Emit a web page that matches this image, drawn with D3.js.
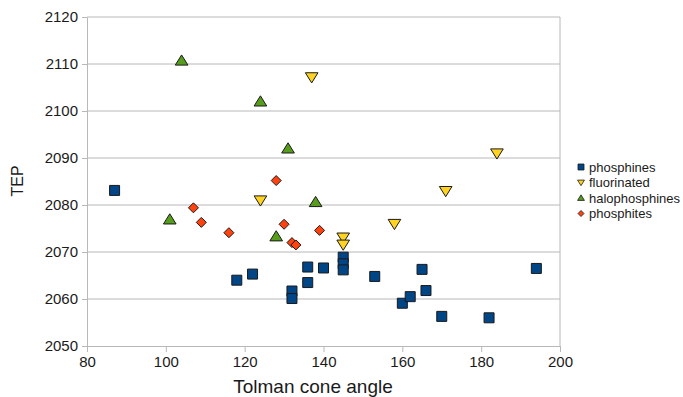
<!DOCTYPE html>
<html>
<head>
<meta charset="utf-8">
<script src="https://cdn.jsdelivr.net/npm/d3@7"></script>
<style>
  body { margin: 0; background: #fff; }
  svg text { font-family: "Liberation Sans", Arial, sans-serif; fill: #1a1a1a; }
</style>
</head>
<body>
<svg id="chart" width="683" height="397"></svg>
<script>
// Data: [Tolman cone angle, TEP]
const phosphines = [
  [87, 2083.1], [118, 2064.0], [122, 2065.3], [132, 2061.7], [132, 2060.1],
  [136, 2066.8], [136, 2063.5], [140, 2066.6], [145, 2068.9], [145, 2067.5],
  [145, 2066.2], [153, 2064.8], [160, 2059.1], [162, 2060.5], [165, 2066.3],
  [166, 2061.8], [170, 2056.3], [182, 2056.0], [194, 2066.5]
];
const fluorinated = [
  [137, 2107.2], [124, 2081.0], [145, 2073.1], [145, 2071.6],
  [158, 2076.0], [171, 2083.0], [184, 2091.0]
];
const halophosphines = [
  [104, 2110.7], [124, 2102.0], [131, 2092.0], [138, 2080.6],
  [128, 2073.3], [101, 2076.9]
];
const phosphites = [
  [107, 2079.4], [109, 2076.3], [116, 2074.1], [128, 2085.2],
  [130, 2075.9], [132, 2072.0], [133, 2071.5], [139, 2074.6]
];

const seriesNames = ["phosphines", "fluorinated", "halophosphines", "phosphites"];
const xTicks = [80, 100, 120, 140, 160, 180, 200];
const yTicks = [2050, 2060, 2070, 2080, 2090, 2100, 2110, 2120];

//-----------------------------------------------------//

const series = [
  { name: seriesNames[0], data: phosphines, color: "#004586", shape: "square" },
  { name: seriesNames[1], data: fluorinated, color: "#ffd320", shape: "down" },
  { name: seriesNames[2], data: halophosphines, color: "#579d1c", shape: "up" },
  { name: seriesNames[3], data: phosphites, color: "#ff420e", shape: "diamond" }
];

const svg = d3.select("#chart");
const plotLeft = 87, plotRight = 560, plotTop = 17, plotBottom = 346;

const x = d3.scaleLinear().domain([80, 200]).range([plotLeft, plotRight]);
const y = d3.scaleLinear().domain([2050, 2120]).range([plotBottom, plotTop]);

// marker paths centred at 0,0, s = half size
function markerPath(shape, s) {
  if (shape == "square") return `M${-s},${-s}H${s}V${s}H${-s}Z`;
  if (shape == "up") return `M0,${-s * 1.05}L${s * 1.15},${s * 0.8}L${-s * 1.15},${s * 0.8}Z`;
  if (shape == "down") return `M0,${s * 1.05}L${s * 1.15},${-s * 0.8}L${-s * 1.15},${-s * 0.8}Z`;
  return `M0,${-s}L${s},0L0,${s}L${-s},0Z`;
}

// horizontal grid lines
svg.append("g")
  .selectAll("line")
  .data(yTicks.slice(1))
  .enter().append("line")
  .attr("x1", plotLeft).attr("x2", plotRight)
  .attr("y1", d => y(d)).attr("y2", d => y(d))
  .attr("stroke", "#b8b8b8")
  .attr("stroke-width", 1);

// right border
svg.append("line")
  .attr("x1", plotRight).attr("x2", plotRight)
  .attr("y1", plotTop).attr("y2", plotBottom)
  .attr("stroke", "#b8b8b8");

// axes
const xAxis = svg.append("g")
  .attr("transform", `translate(0,${plotBottom})`)
  .call(d3.axisBottom(x).tickValues(xTicks).tickSize(6).tickPadding(4).tickSizeOuter(0));
const yAxis = svg.append("g")
  .attr("transform", `translate(${plotLeft},0)`)
  .call(d3.axisLeft(y).tickValues(yTicks).tickFormat(d3.format("d")).tickSize(5).tickPadding(4).tickSizeOuter(0));

[xAxis, yAxis].forEach(a => {
  a.select(".domain").attr("stroke", "#b8b8b8");
  a.selectAll(".tick line").attr("stroke", "#b8b8b8");
  a.selectAll("text")
    .style("font-size", "15px")
    .style("font-family", "'Liberation Sans', Arial, sans-serif")
    .attr("fill", "#1a1a1a");
});

// axis titles
svg.append("text")
  .attr("x", 313)
  .attr("y", 393)
  .attr("text-anchor", "middle")
  .style("font-size", "19px")
  .text("Tolman cone angle");

svg.append("text")
  .attr("transform", "translate(23,181) rotate(-90)")
  .attr("text-anchor", "middle")
  .style("font-size", "16px")
  .text("TEP");

// points
series.forEach(s => {
  svg.append("g")
    .selectAll("path")
    .data(s.data)
    .enter().append("path")
    .attr("transform", d => `translate(${x(d[0])},${y(d[1])})`)
    .attr("d", markerPath(s.shape, s.shape == "square" ? 5 : (s.shape == "diamond" ? 5 : 5.5)))
    .attr("fill", s.color)
    .attr("stroke", "#1a1a1a")
    .attr("stroke-width", 1);
});

// legend
const legend = svg.append("g").attr("transform", "translate(581,167)");
series.forEach((s, i) => {
  const row = legend.append("g").attr("transform", `translate(0,${i * 15.5})`);
  row.append("path")
    .attr("d", markerPath(s.shape, 3))
    .attr("fill", s.color)
    .attr("stroke", "#1a1a1a")
    .attr("stroke-width", 0.8);
  row.append("text")
    .attr("x", 8)
    .attr("y", 4.5)
    .style("font-size", "13px")
    .text(s.name);
});
</script>
</body>
</html>
